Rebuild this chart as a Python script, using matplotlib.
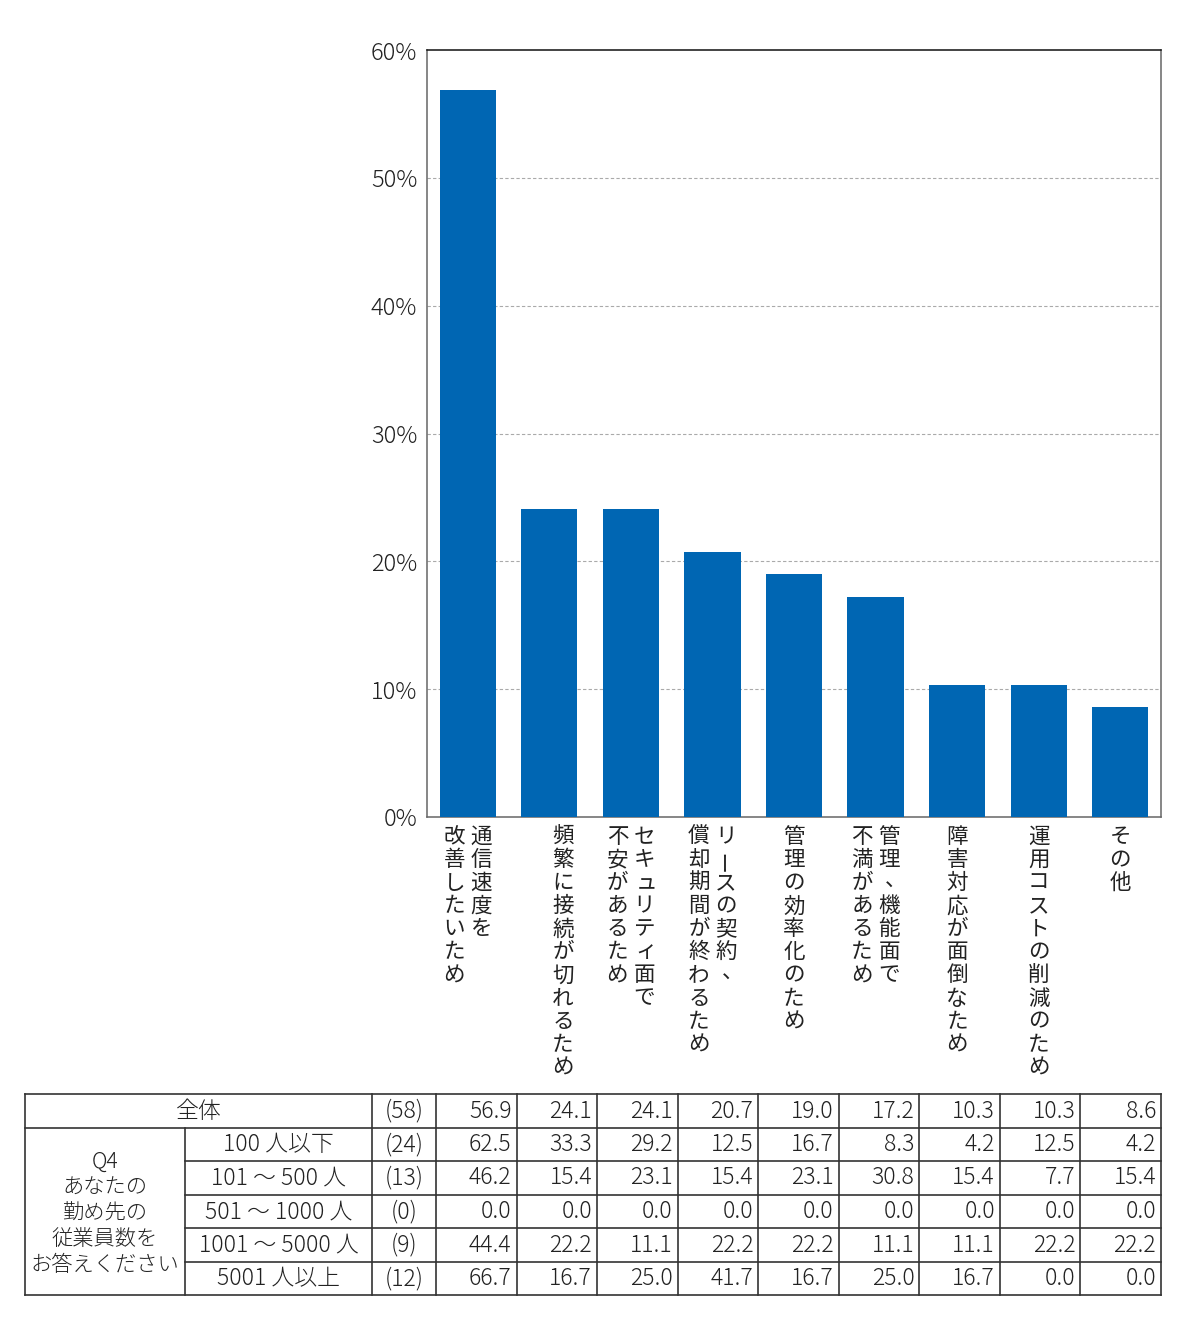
import matplotlib
matplotlib.use("Agg")
import matplotlib.pyplot as plt
from matplotlib.transforms import ScaledTranslation, blended_transform_factory

plt.rcParams['font.family'] = ['Noto Sans CJK JP', 'DejaVu Sans']
plt.rcParams['font.weight'] = 'light'

# --- data -------------------------------------------------------------
# vertical labels: each entry is a list of columns (right to left)
categories = [
    ["通信速度を", "改善したいため"],
    ["頻繁に接続が切れるため", ""],
    ["セキュリティ面で", "不安があるため"],
    ["リースの契約、", "償却期間が終わるため"],
    ["管理の効率化のため"],
    ["管理、機能面で", "不満があるため"],
    ["障害対応が面倒なため"],
    ["運用コストの削減のため"],
    ["その他"],
]
overall_label = "全体"
overall_n = 58
overall = [56.9, 24.1, 24.1, 20.7, 19.0, 17.2, 10.3, 10.3, 8.6]

group_title = "Q4\nあなたの\n勤め先の\n従業員数を\nお答えください"
group_labels = ["100 人以下", "101 ～ 500 人", "501 ～ 1000 人",
                "1001 ～ 5000 人", "5001 人以上"]
group_n = [24, 13, 0, 9, 12]
group_values = [
    [62.5, 33.3, 29.2, 12.5, 16.7, 8.3, 4.2, 12.5, 4.2],
    [46.2, 15.4, 23.1, 15.4, 23.1, 30.8, 15.4, 7.7, 15.4],
    [0.0, 0.0, 0.0, 0.0, 0.0, 0.0, 0.0, 0.0, 0.0],
    [44.4, 22.2, 11.1, 22.2, 22.2, 11.1, 11.1, 22.2, 22.2],
    [66.7, 16.7, 25.0, 41.7, 16.7, 25.0, 16.7, 0.0, 0.0],
]
yticks = [0, 10, 20, 30, 40, 50, 60]

# --- figure -----------------------------------------------------------
W, H = 1200, 1339
fig = plt.figure(figsize=(W / 100, H / 100), dpi=100)
fig.patch.set_facecolor("white")

ax_l, ax_r, ax_t, ax_b = 427, 1161, 50, 817
ax = fig.add_axes([ax_l / W, 1 - ax_b / H, (ax_r - ax_l) / W, (ax_b - ax_t) / H])

x = list(range(len(overall)))
ax.bar(x, overall, width=0.69, color="#0066b3", zorder=3)
ax.set_xlim(-0.5, len(overall) - 0.5)
ax.set_ylim(0, 60)
ax.set_yticks(yticks)
ax.set_yticklabels([f"{t}%" for t in yticks], fontsize=17, color="#222222")
ax.tick_params(axis="y", length=0, pad=7)
ax.set_xticks([])
for t in yticks[1:-1]:
    ax.axhline(t, color="#aaaaaa", lw=0.8, ls=(0, (3, 2)), zorder=1)
for side in ["left", "right", "bottom"]:
    ax.spines[side].set_color("#666666")
    ax.spines[side].set_linewidth(1.1)
ax.spines["top"].set_color("#111111")
ax.spines["top"].set_linewidth(1.1)

# vertical (tategaki) category labels
trans = blended_transform_factory(ax.transData, ax.transAxes)
char_pitch = 16.6   # pt
col_pitch = 19.5    # pt
top_off = 14.5      # pt below the axis
for i, cols in enumerate(categories):
    n = len(cols)
    for c, line in enumerate(cols):
        dx = ((n - 1) / 2 - c) * col_pitch
        for r, ch in enumerate(line):
            dy = -(top_off + r * char_pitch)
            rot = 0
            ox, oy = 0, 0
            if ch == "ー":
                rot = 90
            elif ch == "、":
                ox, oy = 5, 2
            elif ch in "ュィ":
                ox, oy = 1.5, 1
            off = ScaledTranslation((dx + ox) / 72, (dy + oy) / 72, fig.dpi_scale_trans)
            ax.text(i, 0, ch, transform=trans + off, ha="center", va="center",
                    rotation=rot, fontsize=15.5, fontweight="normal",
                    color="#222222")

# --- table ------------------------------------------------------------
tab = fig.add_axes([0, 0, 1, 1])
tab.set_xlim(0, W)
tab.set_ylim(H, 0)
tab.axis("off")

col_edges = [25, 185, 372, 436]
dw = (1161 - 436) / len(overall)
col_edges += [436 + dw * (k + 1) for k in range(len(overall))]
row_edges = [1094, 1128, 1161, 1195, 1228, 1262, 1295]
lc, lw = "#333333", 1.2
left, right = col_edges[0], col_edges[-1]

# horizontal lines
tab.plot([left, right], [row_edges[0]] * 2, color=lc, lw=lw)
tab.plot([left, right], [row_edges[1]] * 2, color=lc, lw=lw)
for ye in row_edges[2:-1]:
    tab.plot([col_edges[1], right], [ye] * 2, color=lc, lw=lw)
tab.plot([left, right], [row_edges[-1]] * 2, color=lc, lw=lw)
# vertical lines
tab.plot([left] * 2, [row_edges[0], row_edges[-1]], color=lc, lw=lw)
tab.plot([col_edges[1]] * 2, [row_edges[1], row_edges[-1]], color=lc, lw=lw)
for xe in col_edges[2:]:
    tab.plot([xe] * 2, [row_edges[0], row_edges[-1]], color=lc, lw=lw)

fs = 16.5
tc = "#222222"


def row_text(r, n, vals):
    yc = (row_edges[r] + row_edges[r + 1]) / 2
    tab.text((col_edges[2] + col_edges[3]) / 2, yc, f"({n})", ha="center",
             va="center", fontsize=fs, color=tc)
    for k, v in enumerate(vals):
        tab.text(col_edges[4 + k] - 5, yc, f"{v:.1f}", ha="right", va="center",
                 fontsize=fs, color=tc)


tab.text((col_edges[0] + col_edges[2]) / 2, (row_edges[0] + row_edges[1]) / 2,
         overall_label, ha="center", va="center", fontsize=fs, color=tc)
row_text(0, overall_n, overall)

tab.text((col_edges[0] + col_edges[1]) / 2, (row_edges[1] + row_edges[-1]) / 2 + 2,
         group_title, ha="center", va="center", fontsize=15.3, color=tc,
         linespacing=1.22, multialignment="center")
for g, lab in enumerate(group_labels):
    yc = (row_edges[g + 1] + row_edges[g + 2]) / 2
    tab.text((col_edges[1] + col_edges[2]) / 2, yc, lab, ha="center",
             va="center", fontsize=fs, color=tc)
    row_text(g + 1, group_n[g], group_values[g])

fig.savefig("out.png", dpi=100, facecolor="white")
